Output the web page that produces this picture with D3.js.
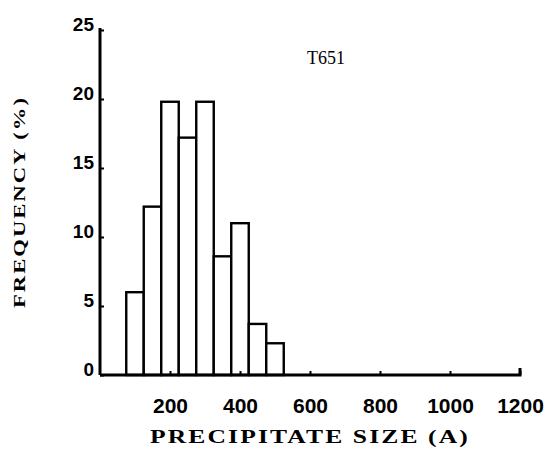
<!DOCTYPE html>
<html>
<head>
<meta charset="utf-8">
<script src="https://cdn.jsdelivr.net/npm/d3@7"></script>
<style>
  html, body { margin: 0; padding: 0; background: #fff; }
  svg { display: block; }
</style>
</head>
<body>
<svg id="chart" width="548" height="455"></svg>
<script>
// ---- data ----
const binStarts = [75, 125, 175, 225, 275, 325, 375, 425, 475];
const binEnds   = [125, 175, 225, 275, 325, 375, 425, 475, 525];
const frequencies = [6.0, 12.2, 19.8, 17.2, 19.8, 8.6, 11.0, 3.7, 2.3];
const xTickValues = [200, 400, 600, 800, 1000, 1200];
const yTickValues = [0, 5, 10, 15, 20, 25];
const xTitle = "PRECIPITATE SIZE (A)";
const yTitle = "FREQUENCY (%)";
const sampleLabel = "T651";

// ---- layout ----
const svg = d3.select("#chart");
const x = d3.scaleLinear().domain([0, 1200]).range([100, 520]);
const y = d3.scaleLinear().domain([0, 25]).range([375, 30]);

const bars = binStarts.map((s, i) => ({ x0: s, x1: binEnds[i], v: frequencies[i] }));

svg.append("g").selectAll("rect")
  .data(bars)
  .join("rect")
  .attr("x", d => x(d.x0))
  .attr("y", d => y(d.v))
  .attr("width", d => x(d.x1) - x(d.x0))
  .attr("height", d => y(0) - y(d.v))
  .attr("fill", "#fff")
  .attr("stroke", "#000")
  .attr("stroke-width", 2.4);

// x axis
const xAxis = svg.append("g")
  .attr("transform", `translate(0,${y(0)})`)
  .call(d3.axisBottom(x).tickValues(xTickValues).tickFormat(d3.format("d"))
    .tickSizeInner(-4).tickSizeOuter(0).tickPadding(23));
xAxis.select(".domain").attr("stroke-width", 3).attr("d", `M${x(0)},0H${x(1200)}V-7`);
xAxis.selectAll(".tick line").attr("stroke-width", 2);
xAxis.selectAll(".tick text")
  .attr("font-family", "'Liberation Sans', Arial, sans-serif")
  .attr("font-weight", "bold")
  .attr("font-size", 21)
  .attr("fill", "#000");

// y axis
const yAxis = svg.append("g")
  .attr("transform", `translate(${x(0)},0)`)
  .call(d3.axisLeft(y).tickValues(yTickValues).tickFormat(d3.format("d"))
    .tickSizeInner(-4).tickSizeOuter(0).tickPadding(6));
yAxis.select(".domain").attr("stroke-width", 3).attr("d", `M0,${y(0)}V${y(25) - 2}`);
yAxis.selectAll(".tick line").attr("stroke-width", 2);
yAxis.selectAll(".tick text")
  .attr("font-family", "'Liberation Sans', Arial, sans-serif")
  .attr("font-weight", "bold")
  .attr("font-size", 19)
  .attr("dy", "0.05em")
  .attr("fill", "#000");

// titles
svg.append("text")
  .attr("x", 150).attr("y", 443)
  .attr("textLength", 320).attr("lengthAdjust", "spacingAndGlyphs")
  .attr("letter-spacing", 1.5)
  .attr("font-family", "'Liberation Serif', serif")
  .attr("font-weight", "bold")
  .attr("font-size", 18)
  .text(xTitle);

svg.append("text")
  .attr("transform", "translate(25,308) rotate(-90)")
  .attr("x", 0).attr("y", 0)
  .attr("textLength", 212).attr("lengthAdjust", "spacingAndGlyphs")
  .attr("letter-spacing", 1.5)
  .attr("font-family", "'Liberation Serif', serif")
  .attr("font-weight", "bold")
  .attr("font-size", 17)
  .text(yTitle);

svg.append("text")
  .attr("x", 307).attr("y", 64)
  .attr("font-family", "'Liberation Serif', serif")
  .attr("font-size", 18)
  .text(sampleLabel);
</script>
</body>
</html>
